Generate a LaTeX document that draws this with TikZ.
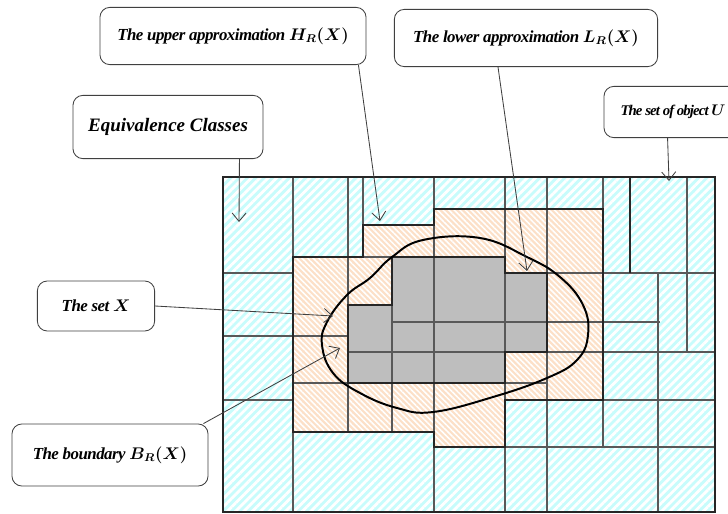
\documentclass[tikz,border=0pt]{standalone}
\usepackage{fontspec}
\setmainfont{Liberation Serif}
\newfontfamily\labelfont[LetterSpace=-3.0]{Liberation Serif}
\newfontfamily\tightfont[LetterSpace=-6.0]{Liberation Serif}
\usetikzlibrary{arrows.meta, positioning, calc, patterns.meta}
\definecolor{eqcyan}{HTML}{C8FCFC}
\definecolor{bndpeach}{HTML}{FCE0C8}
\definecolor{lowgray}{HTML}{BEBEBE}
\tikzset{
    labelbox/.style={
        draw=black!75,
        rounded corners=7pt,
        line width=0.6pt,
        fill=white,
        align=center,
        font=\labelfont\bfseries\itshape\fontsize{12}{14}\selectfont
    },
    pointer/.style={-{Straight Barb[length=6pt, width=10pt]}, draw=black!75, line width=0.6pt},
    cyanhatch/.style={
        preaction={fill=eqcyan},
        pattern={Lines[angle=45, distance=4.2pt, line width=2pt]},
        pattern color=white
    },
    peachhatch/.style={
        preaction={fill=bndpeach},
        pattern={Lines[angle=-45, distance=2.8pt, line width=1.1pt]},
        pattern color=white
    },
    gridline/.style={draw=black!65, line width=0.8pt},
    outline/.style={draw=black!85, line width=1.3pt},
    setline/.style={draw=black, line width=1.4pt}
}

\begin{document}
\begin{tikzpicture}[x=0.025cm, y=-0.025cm]
\useasboundingbox (0,0) rectangle (728,513);

% universe, upper and lower approximation
\path[cyanhatch] (223,177) rectangle (715,512);
\path[peachhatch] (293,257) -- (363,257) -- (363,225) -- (434,225) -- (434,209) -- (603,209)
    -- (603,400) -- (505,400) -- (505,447) -- (434,447) -- (434,432) -- (293,432) -- cycle;
\fill[lowgray] (348,305) -- (392,305) -- (392,257) -- (505,257) -- (505,273) -- (547,273)
    -- (547,352) -- (505,352) -- (505,383) -- (348,383) -- cycle;

% equivalence classes
\draw[gridline] (293,177) -- (293,512)  (348,177) -- (348,432)  (363,177) -- (363,225)
    (392,257) -- (392,432)  (434,177) -- (434,512)  (505,177) -- (505,512)
    (547,177) -- (547,512)  (603,177) -- (603,447)  (687,177) -- (687,352)
    (658,273) -- (658,512);
\draw[gridline] (223,273) -- (293,273)  (223,336) -- (348,336)  (223,400) -- (293,400)
    (505,273) -- (715,273)  (392,322) -- (660,322)  (348,352) -- (715,352)
    (293,383) -- (547,383)  (505,400) -- (715,400)  (434,447) -- (715,447)
    (348,257) -- (392,257);
\draw[outline] (630,177) -- (630,273);
\draw[outline] (223,177) rectangle (715,512);
\draw[outline] (293,257) -- (363,257) -- (363,225) -- (434,225) -- (434,209) -- (603,209)
    -- (603,400) -- (505,400) -- (505,447) -- (434,447) -- (434,432) -- (293,432) -- cycle;
\draw[outline] (348,305) -- (392,305) -- (392,257) -- (505,257) -- (505,273) -- (547,273)
    -- (547,352) -- (505,352) -- (505,383) -- (348,383) -- cycle;

% the set X
\draw[setline] plot[smooth cycle, tension=0.7] coordinates {(392,257) (423,240) (480,238)
    (527,257) (560,277) (583,305) (588,335) (577,360) (547,378) (493,397) (433,412)
    (397,408) (360,393) (333,373) (322,345) (327,322) (347,295) (370,278)};

% labels
\node[labelbox, minimum width=6.65cm, minimum height=1.43cm] (upper) at (233,36)
    {The upper approximation {\boldmath$H_R(X)$}};
\node[labelbox, minimum width=6.58cm, minimum height=1.43cm] (lower) at (526,38)
    {The lower approximation {\boldmath$L_R(X)$}};
\node[labelbox, minimum width=4.75cm, minimum height=1.58cm, font=\bfseries\itshape\fontsize{13.5}{16}\selectfont] (eqclass) at (168,127)
    {Equivalence Classes};
\node[labelbox, minimum width=3.45cm, minimum height=1.28cm, font=\tightfont\bfseries\itshape\fontsize{10.5}{12}\selectfont] (objects) at (673,112)
    {The set of object {\boldmath$U$}};
\node[labelbox, minimum width=2.93cm, minimum height=1.25cm] (setX) at (96,306)
    {The set {\boldmath$X$}};
\node[labelbox, minimum width=4.9cm, minimum height=1.55cm] (bnd) at (110,455)
    {The boundary {\boldmath$B_R(X)$}};

\coordinate (eqTip) at (239,222);
\coordinate (upTip) at (380,221);
\coordinate (lowTip) at (527,271);
\coordinate (objTip) at (669,181);
\coordinate (setTip) at (333,316);
\coordinate (bndTip) at (340,348);

\draw[pointer] ($(eqclass.south east)+(-24,0)$) -- (eqTip);
\draw[pointer] ($(upper.south east)+(-8,0)$) -- (upTip);
\draw[pointer] ($(lower.south)+(-28,0)$) -- (lowTip);
\draw[pointer] ($(objects.south west)+(64,0)$) -- (objTip);
\draw[pointer] (setX.east) -- (setTip);
\draw[pointer] ($(bnd.north east)+(-5,0)$) -- (bndTip);
\end{tikzpicture}
\end{document}
